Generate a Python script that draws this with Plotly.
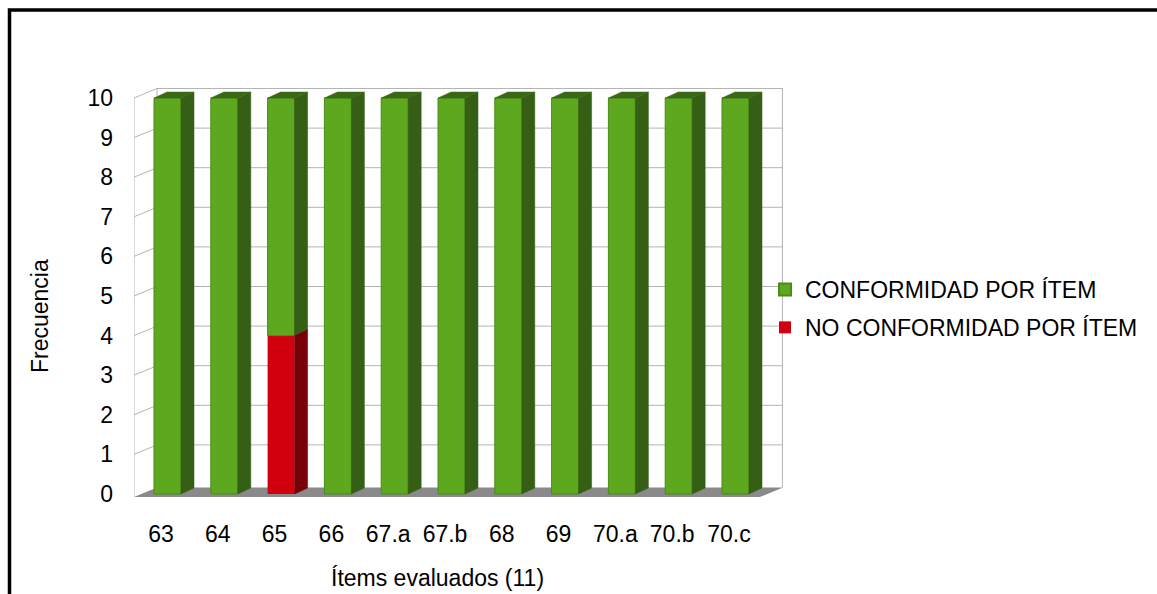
import plotly.graph_objects as go

# ---------------- data ----------------
categories = ["63", "64", "65", "66", "67.a", "67.b", "68", "69", "70.a", "70.b", "70.c"]
conformidad = [10, 10, 6, 10, 10, 10, 10, 10, 10, 10, 10]
no_conformidad = [0, 0, 4, 0, 0, 0, 0, 0, 0, 0, 0]
y_ticks = [0, 1, 2, 3, 4, 5, 6, 7, 8, 9, 10]
name_conf = "CONFORMIDAD POR ÍTEM"
name_noconf = "NO CONFORMIDAD POR ÍTEM"
x_title = "Ítems evaluados (11)"
y_title = "Frecuencia"

# ---------------- style / geometry ----------------
W, H = 1157, 594
L, R, T, B = 134, 783, 85, 497          # plot area in pixels
PX_X, PX_Y = 56.8, 39.6                 # pixels per data unit
FIRST_CENTER_PX, ZERO_PX = 167.5, 494

x0 = -(FIRST_CENTER_PX - L) / PX_X
x1 = x0 + (R - L) / PX_X
y0 = -(B - ZERO_PX) / PX_Y
y1 = y0 + (B - T) / PX_Y

BAR_W = 27 / PX_X
DXW, DYW = 23 / PX_X, 9.5 / PX_Y        # wall depth
DXB, DYB = 13 / PX_X, 6 / PX_Y          # bar depth
LABEL_SHIFT = 6.5 / PX_X

GREEN, GREEN_EDGE, GREEN_SIDE, GREEN_TOP = "#5ea820", "#4a8a19", "#355f14", "#3a6816"
RED, RED_EDGE, RED_SIDE, RED_TOP = "#d2000f", "#b0000c", "#780008", "#8a000a"
GRID = "#b4b4b4"
FLOOR = "#8a8a8a"
FONT = "Liberation Sans, Arial, sans-serif"
FS = 23


def paper_x(px):
    return (px - L) / (R - L)


def paper_y(py):
    return 1 - (py - T) / (B - T)


xs = list(range(len(categories)))

fig = go.Figure()

# front faces (bars)
fig.add_trace(go.Bar(
    x=xs, y=no_conformidad, width=BAR_W, name=name_noconf, legendrank=2, legendgroup="noconf",
    marker=dict(color=RED, line=dict(color=RED_EDGE, width=0)),
))
fig.add_trace(go.Bar(
    x=xs, y=conformidad, base=no_conformidad, width=BAR_W, name=name_conf, legendrank=1,
    legendgroup="conf",
    marker=dict(color=GREEN, line=dict(color=GREEN_EDGE, width=1)),
))

# 3D side and top faces derived from the data
segments = []  # (x, bottom, top, side colour, top colour, is_top)
for i, x in enumerate(xs):
    b0, t0 = 0, no_conformidad[i]
    b1, t1 = no_conformidad[i], no_conformidad[i] + conformidad[i]
    segs = []
    if t0 > b0:
        segs.append((b0, t0, RED_SIDE, RED_TOP))
    if t1 > b1:
        segs.append((b1, t1, GREEN_SIDE, GREEN_TOP))
    for k, (b, t, cs, ct) in enumerate(segs):
        segments.append((x, b, t, cs, ct, k == len(segs) - 1))

faces = {}
for x, b, t, cs, ct, is_top in segments:
    xr = x + BAR_W / 2
    xl = x - BAR_W / 2
    fx, fy = faces.setdefault(cs, ([], []))
    fx += [xr, xr + DXB, xr + DXB, xr, xr, None]
    fy += [b, b + DYB, t + DYB, t, b, None]
    if is_top:
        fx, fy = faces.setdefault(ct, ([], []))
        fx += [xl, xl + DXB, xr + DXB, xr, xl, None]
        fy += [t, t + DYB, t + DYB, t, t, None]

for col, (fx, fy) in faces.items():
    fig.add_trace(go.Scatter(
        x=fx, y=fy, mode="lines", fill="toself", fillcolor=col,
        line=dict(color=col, width=0.5), showlegend=False, hoverinfo="skip",
    ))

# walls, floor, gridlines
shapes = []
top = y_ticks[-1]
shapes.append(dict(
    type="path", xref="x", yref="y", layer="below",
    path=f"M{x0},{y0} L{x1 - DXW},{y0} L{x1},{y0 + DYW} L{x0 + DXW},{y0 + DYW} Z",
    fillcolor=FLOOR, line=dict(width=0),
))
for v in y_ticks[1:]:
    shapes.append(dict(type="line", xref="x", yref="y", layer="below",
                       x0=x0, y0=v, x1=x0 + DXW, y1=v + DYW, line=dict(color=GRID, width=1)))
    shapes.append(dict(type="line", xref="x", yref="y", layer="below",
                       x0=x0 + DXW, y0=v + DYW, x1=x1, y1=v + DYW, line=dict(color=GRID, width=1)))
shapes.append(dict(type="line", xref="x", yref="y", layer="below",
                   x0=x0, y0=y0, x1=x0, y1=top, line=dict(color=GRID, width=1)))
shapes.append(dict(type="line", xref="x", yref="y", layer="below",
                   x0=x0 + DXW, y0=y0 + DYW, x1=x0 + DXW, y1=top + DYW, line=dict(color=GRID, width=1)))
shapes.append(dict(type="line", xref="x", yref="y", layer="below",
                   x0=x1 - 0.01, y0=y0 + DYW, x1=x1 - 0.01, y1=top + DYW, line=dict(color=GRID, width=1)))
# outer frame
shapes.append(dict(type="rect", xref="paper", yref="paper", layer="above",
                   x0=paper_x(9.5), y0=paper_y(10), x1=paper_x(1175), y1=paper_y(620),
                   line=dict(color="black", width=3.5)))

annotations = [
    dict(text=x_title, xref="paper", yref="paper", x=paper_x(437), y=paper_y(578),
         xanchor="center", yanchor="middle", showarrow=False, font=dict(size=FS)),
    dict(text=y_title, xref="paper", yref="paper", x=paper_x(40), y=paper_y(316),
         xanchor="center", yanchor="middle", textangle=-90, showarrow=False, font=dict(size=FS)),
]

fig.update_layout(
    width=W, height=H,
    margin=dict(l=L, r=W - R, t=T, b=H - B, pad=0),
    paper_bgcolor="white", plot_bgcolor="white",
    barmode="overlay",
    font=dict(family=FONT, size=FS, color="black"),
    shapes=shapes, annotations=annotations,
    legend=dict(x=paper_x(765), y=paper_y(268), xanchor="left", yanchor="top",
                traceorder="grouped", tracegroupgap=5, itemsizing="constant",
                bgcolor="rgba(0,0,0,0)", font=dict(size=FS)),
    xaxis=dict(range=[x0, x1], tickvals=[x - LABEL_SHIFT for x in xs], ticktext=categories,
               showgrid=False, zeroline=False, showline=False, ticks="", ticklabelstandoff=21,
               fixedrange=True),
    yaxis=dict(range=[y0, y1], tickvals=y_ticks, showgrid=False, zeroline=False,
               showline=False, ticks="", ticklabelstandoff=20, fixedrange=True),
    showlegend=True,
)

fig.write_html("out.html")
